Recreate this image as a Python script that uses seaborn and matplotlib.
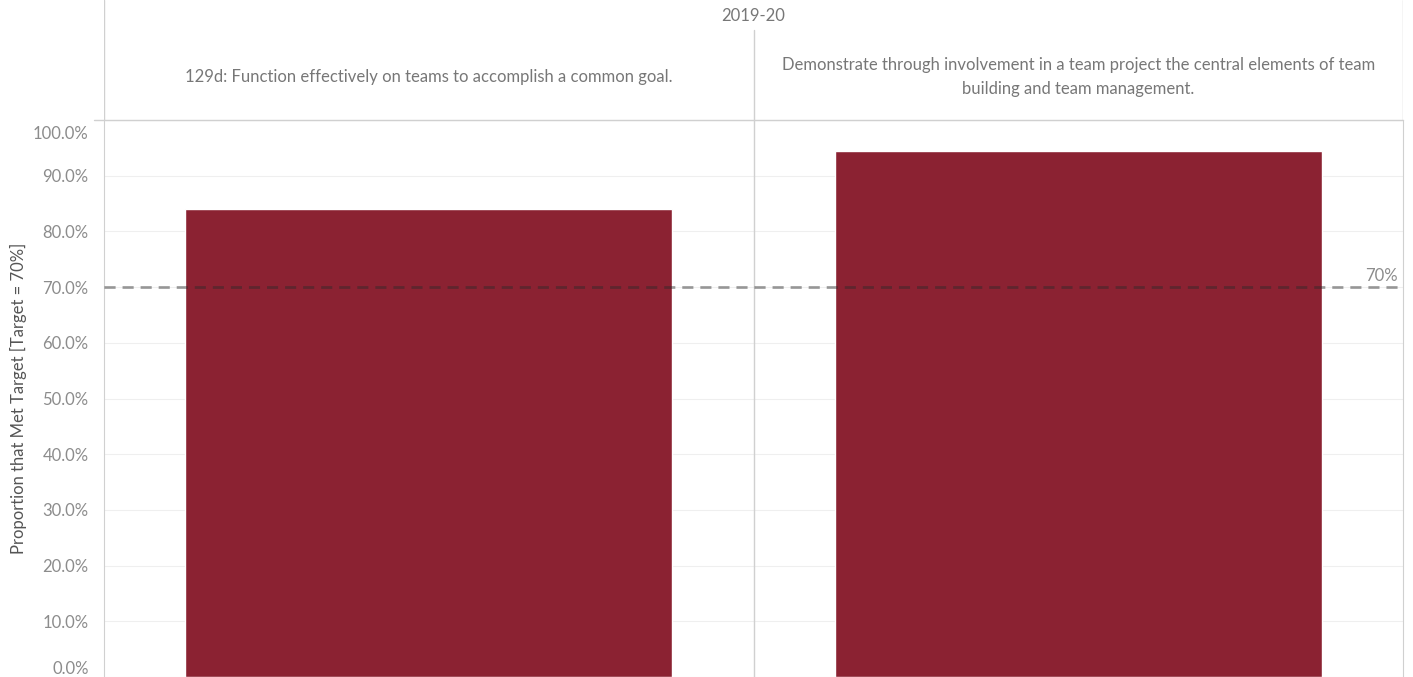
import numpy as np
import pandas as pd
import matplotlib.pyplot as plt
import seaborn as sns
from matplotlib.ticker import PercentFormatter
from matplotlib.transforms import offset_copy

# Data
year = "2019-20"
outcomes = [
    "129d: Function effectively on teams to accomplish a common goal.",
    "Demonstrate through involvement in a team project the central elements of team\nbuilding and team management.",
]
met_target = [84.0, 94.4]
target = 70
y_ticks = np.arange(0, 101, 10)

df = pd.DataFrame({"outcome": outcomes, "met": met_target})

sns.set_style("white")
plt.rcParams["font.family"] = ["Lato", "DejaVu Sans"]
fs = 12

W, H = 1413, 677
fig = plt.figure(figsize=(W / 100, H / 100), dpi=100)

left, right, top_plot = 104, 1403, 120
ax = fig.add_axes([left / W, 0, (right - left) / W, (H - top_plot) / H])

sns.barplot(data=df, x="outcome", y="met", color="#8b2232", width=0.75,
            saturation=1, ax=ax, zorder=2)

ax.set_xlim(-0.5, 1.5)
ax.set_ylim(0, 100)
ax.set_yticks(y_ticks)
ax.yaxis.set_major_formatter(PercentFormatter(decimals=1))
ax.tick_params(axis="y", length=0, labelsize=fs, labelcolor="#8c8c8c", pad=11)
ax.set_xticks([])
ax.set_xlabel("")
ax.set_ylabel("Proportion that Met Target [Target = 70%]", fontsize=fs,
              color="#555555")
ax.yaxis.set_label_coords(-(left - 27) / (right - left), 0.5)

for t in y_ticks:
    ax.axhline(t, color="#efefef", lw=0.8, zorder=0)
ax.axvline(0.5, color="#d0d0d0", lw=1, zorder=1)

for s in ["top", "bottom"]:
    ax.spines[s].set_visible(False)
ax.spines["left"].set_color("#d0d0d0")
ax.spines["right"].set_color("#d0d0d0")

# target line
ax.axhline(target, color="#2a2a2a", alpha=0.45, lw=2, ls=(0, (4, 2.5)), zorder=3)
ax.text(1.5 - 0.008, target + 0.6, f"{target}%", ha="right", va="bottom",
        fontsize=fs, color="#8c8c8c")

# keep edge tick labels inside the pane
labels = ax.get_yticklabels()
labels[0].set_va("bottom")
labels[-1].set_va("top")
labels[-1].set_transform(offset_copy(labels[-1].get_transform(), fig=fig,
                                     y=-4, units="points"))

# Header area
hdr = fig.add_axes([left / W, (H - top_plot) / H, (right - left) / W, top_plot / H])
hdr.set_xlim(0, 2)
hdr.set_ylim(top_plot, 0)
hdr.axis("off")
hdr.text(1, 16, year, ha="center", va="center", fontsize=fs, color="#777777")
hdr.plot([1, 1], [30, top_plot], color="#d0d0d0", lw=1)
hdr.plot([0, 0], [0, top_plot], color="#d0d0d0", lw=1)
hdr.plot([2, 2], [0, top_plot], color="#d0d0d0", lw=1)
hdr.plot([-0.015, 2], [top_plot - 0.5, top_plot - 0.5], color="#d0d0d0", lw=1,
         clip_on=False)
for i, name in enumerate(outcomes):
    hdr.text(i + 0.5, 77, name, ha="center", va="center", fontsize=fs,
             color="#777777", linespacing=1.6)

fig.savefig("out.png", dpi=100)
